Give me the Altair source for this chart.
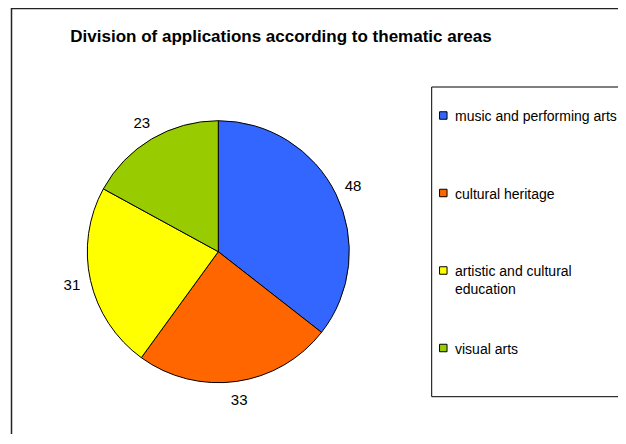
import altair as alt
import pandas as pd

categories = ["music and performing arts", "cultural heritage",
              "artistic and cultural education", "visual arts"]
legend_labels = ["music and performing arts", "cultural heritage",
                 "artistic and cultural\neducation", "visual arts"]
values = [48, 33, 31, 23]
order = [0, 1, 2, 3]
colors = ["#3366FF", "#FF6600", "#FFFF00", "#99CC00"]
title_text = "Division of applications according to thematic areas"

FONT = "Liberation Sans"
CX, CY, R = 210.3, 243.7, 131

df = pd.DataFrame({"category": categories, "value": values,
                   "order": order, "label": legend_labels})
one = pd.DataFrame({"t": [title_text]})

base = alt.Chart(df)
theta = alt.Theta("value:Q", stack=True)
color = alt.Color("category:N", scale=alt.Scale(domain=categories, range=colors), legend=None)
ordr = alt.Order("order:Q")

frame = alt.Chart(one).mark_rect(fill="white", stroke="#222222", strokeWidth=1.5).encode(
    x=alt.value(3.5), x2=alt.value(800), y=alt.value(0.5), y2=alt.value(800))

title = alt.Chart(one).mark_text(font=FONT, fontSize=17, fontWeight="bold",
                                 align="center", baseline="alphabetic", color="black").encode(
    x=alt.value(273), y=alt.value(34), text="t:N")

pie = base.mark_arc(outerRadius=R, stroke="black", strokeWidth=1).encode(
    theta=theta, color=color, order=ordr, x=alt.value(CX), y=alt.value(CY))

labels = base.mark_text(radius=150, font=FONT, fontSize=15, color="black").encode(
    theta=theta, order=ordr, text="value:Q", x=alt.value(CX), y=alt.value(CY))

legend_box = alt.Chart(one).mark_rect(fill="white", stroke="black", strokeWidth=1).encode(
    x=alt.value(423.7), x2=alt.value(800), y=alt.value(79), y2=alt.value(388.7))

ly = alt.Y("category:N", scale=alt.Scale(domain=categories, range=[107.5, 340], padding=0), axis=None)

leg_sq = base.mark_square(size=56, stroke="black", strokeWidth=1, opacity=1).encode(
    x=alt.value(435.3), y=ly, color=color)

leg_txt = base.mark_text(align="left", baseline="alphabetic", dy=5.5, lineBreak="\n", lineHeight=18,
                         font=FONT, fontSize=14, color="black").encode(
    x=alt.value(447), y=ly, text="label:N")

chart = alt.layer(frame, title, pie, labels, legend_box, leg_sq, leg_txt).properties(
    width=610, height=426, padding=0, autosize="none"
).configure_view(stroke="transparent")

chart.save("out.html", embed_options={"renderer": "svg", "actions": False})
